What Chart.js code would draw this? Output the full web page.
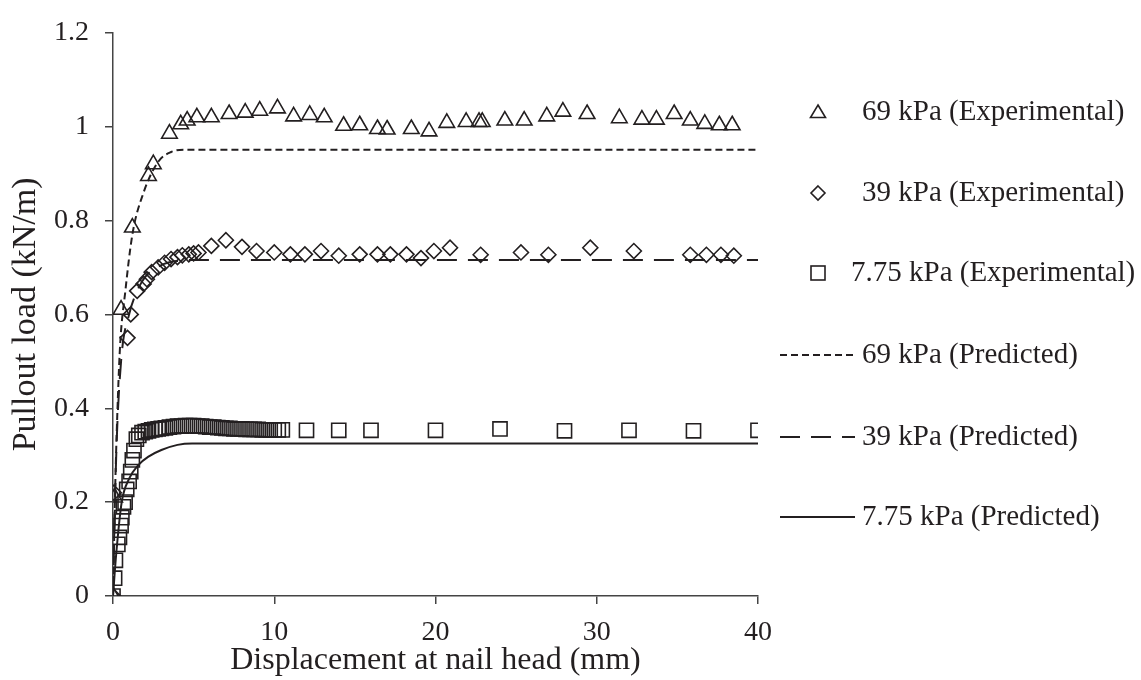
<!DOCTYPE html>
<html>
<head>
<meta charset="utf-8">
<script src="https://cdn.jsdelivr.net/npm/chart.js@4.4.1/dist/chart.umd.min.js"></script>
<style>
  html, body { margin: 0; padding: 0; background: #fff; }
  #wrap { width: 1141px; height: 680px; position: relative; }
</style>
</head>
<body>
<div id="wrap"><canvas id="pullout"></canvas></div>
<script>
// axis ticks
const xTicks = [0, 10, 20, 30, 40];
const yTicks = [0, 0.2, 0.4, 0.6, 0.8, 1, 1.2];

// 69 kPa experimental (triangles)
const exp69X = [
  0, 0.1, 0.5, 1.2, 2.2, 2.5, 3.5, 4.2, 4.6, 5.2,
  6.1, 7.2, 8.2, 9.1, 10.2, 11.2, 12.2, 13.1, 14.3, 15.3,
  16.4, 17.0, 18.5, 19.6, 20.7, 21.9, 22.7, 22.9, 24.3, 25.5,
  26.9, 27.9, 29.4, 31.4, 32.8, 33.7, 34.8, 35.8, 36.7, 37.6,
  38.4
];
const exp69Y = [
  0, 0.21, 0.61, 0.785, 0.895, 0.92, 0.985, 1.005, 1.013, 1.02,
  1.02, 1.027, 1.03, 1.034, 1.039, 1.022, 1.025, 1.02, 1.002, 1.003,
  0.995, 0.994, 0.995, 0.99, 1.008, 1.01, 1.01, 1.01, 1.013, 1.013,
  1.022, 1.032, 1.027, 1.018, 1.015, 1.015, 1.027, 1.013, 1.006, 1.003,
  1.003
];

// 39 kPa experimental (diamonds)
const exp39X = [
  0, 0.05, 0.9, 1.1, 1.5, 1.9, 2.1, 2.4, 2.8, 3.2,
  3.6, 4.0, 4.3, 4.7, 5.0, 5.3, 6.1, 7.0, 8.0, 8.9,
  10.0, 11.0, 11.9, 12.9, 14.0, 15.3, 16.4, 17.2, 18.2, 19.1,
  19.9, 20.9, 22.8, 25.3, 27.0, 29.6, 32.3, 35.8, 36.8, 37.7,
  38.5
];
const exp39Y = [
  0, 0.22, 0.55, 0.6, 0.65, 0.665, 0.675, 0.69, 0.70, 0.71,
  0.718, 0.722, 0.726, 0.728, 0.73, 0.732, 0.746, 0.758, 0.744, 0.735,
  0.732, 0.728, 0.728, 0.735, 0.725, 0.728, 0.728, 0.728, 0.728, 0.72,
  0.735, 0.742, 0.727, 0.732, 0.727, 0.742, 0.735, 0.727, 0.727, 0.727,
  0.725
];

// 7.75 kPa experimental (squares)
const exp775X = [
  0, 0.1, 0.15, 0.3, 0.4, 0.5, 0.55, 0.65, 0.75, 0.85,
  1.0, 1.1, 1.2, 1.3, 1.45, 1.6, 1.8, 2.0, 2.2, 2.4,
  2.6, 2.8, 3.0, 3.25, 3.5, 3.75, 4.0, 4.25, 4.5, 4.75,
  5.0, 5.25, 5.5, 5.75, 6.0, 6.25, 6.5, 6.75, 7.0, 7.25,
  7.5, 7.75, 8.0, 8.25, 8.5, 8.75, 9.0, 9.25, 9.5, 9.75,
  10.0, 10.25, 10.5, 12, 14, 16, 20, 24, 28, 32,
  36, 40
];
const exp775Y = [
  0, 0.038, 0.076, 0.11, 0.125, 0.15, 0.167, 0.19, 0.2, 0.227,
  0.244, 0.265, 0.29, 0.31, 0.334, 0.342, 0.348, 0.35, 0.352, 0.354,
  0.355, 0.356, 0.357, 0.358, 0.36, 0.361, 0.362, 0.362, 0.363, 0.363,
  0.363, 0.362, 0.362, 0.361, 0.36, 0.36, 0.359, 0.358, 0.357, 0.357,
  0.356, 0.356, 0.356, 0.355, 0.355, 0.355, 0.355, 0.354, 0.354, 0.354,
  0.354, 0.354, 0.354, 0.353, 0.353, 0.353, 0.353, 0.356, 0.352, 0.353,
  0.352, 0.353
];

// predicted curves
const pred69X = [0, 0.15, 0.3, 0.45, 0.75, 1.2, 1.9, 2.8, 3.6, 4.5, 40];
const pred69Y = [0, 0.25, 0.42, 0.54, 0.645, 0.77, 0.86, 0.925, 0.946, 0.951, 0.951];
const pred39X = [0, 0.2, 0.5, 1, 1.5, 2, 3, 4, 5, 40];
const pred39Y = [0, 0.3, 0.5, 0.6, 0.65, 0.68, 0.705, 0.714, 0.716, 0.716];
const pred775X = [0, 0.2, 0.54, 1, 1.57, 2.2, 3.0, 4.0, 4.9, 40];
const pred775Y = [0, 0.09, 0.2, 0.25, 0.279, 0.297, 0.311, 0.322, 0.325, 0.325];

const labels = [
  "69 kPa (Experimental)",
  "39 kPa (Experimental)",
  "7.75 kPa (Experimental)",
  "69 kPa (Predicted)",
  "39 kPa (Predicted)",
  "7.75 kPa (Predicted)"
];

const INK = "#231f20";
const SERIF = "'Liberation Serif', 'Times New Roman', serif";

function pts(xs, ys) {
  return xs.map((x, i) => ({ x: x, y: ys[i] }));
}

// legend on the right, drawn by hand so the spacing matches the figure
const sideLegend = {
  id: "sideLegend",
  afterDraw(chart) {
    const ctx = chart.ctx;
    const rows = [112, 193, 273, 355, 437, 517];
    const textX = [862, 862, 851, 862, 862, 862];
    ctx.save();
    ctx.strokeStyle = INK;
    ctx.lineWidth = 1.6;

    // triangle
    let cx = 818, cy = rows[0];
    ctx.beginPath();
    ctx.moveTo(cx, cy - 7);
    ctx.lineTo(cx + 7.5, cy + 5.5);
    ctx.lineTo(cx - 7.5, cy + 5.5);
    ctx.closePath();
    ctx.stroke();

    // diamond
    cy = rows[1];
    ctx.beginPath();
    ctx.moveTo(cx, cy - 7);
    ctx.lineTo(cx + 7, cy);
    ctx.lineTo(cx, cy + 7);
    ctx.lineTo(cx - 7, cy);
    ctx.closePath();
    ctx.stroke();

    // square
    cy = rows[2];
    ctx.strokeRect(cx - 7, cy - 7, 14, 14);

    // lines
    const dashes = [[7, 4], [20, 11], []];
    for (let i = 0; i < 3; i++) {
      ctx.setLineDash(dashes[i]);
      ctx.lineWidth = 2;
      ctx.beginPath();
      ctx.moveTo(780, rows[3 + i]);
      ctx.lineTo(855, rows[3 + i]);
      ctx.stroke();
    }
    ctx.setLineDash([]);

    ctx.fillStyle = INK;
    ctx.font = "29px " + SERIF;
    ctx.textBaseline = "middle";
    ctx.textAlign = "left";
    labels.forEach((t, i) => ctx.fillText(t, textX[i], rows[i]));
    ctx.restore();
  }
};

const ctx = document.getElementById("pullout").getContext("2d");

new Chart(ctx, {
  type: "scatter",
  data: {
    datasets: [
      {
        label: labels[0],
        data: pts(exp69X, exp69Y),
        pointStyle: "triangle",
        pointRadius: 9,
        borderColor: INK,
        backgroundColor: "rgba(0,0,0,0)",
        pointBorderWidth: 1.6
      },
      {
        label: labels[1],
        data: pts(exp39X, exp39Y),
        pointStyle: "rectRot",
        pointRadius: 7.5,
        borderColor: INK,
        backgroundColor: "rgba(0,0,0,0)",
        pointBorderWidth: 1.6
      },
      {
        label: labels[2],
        data: pts(exp775X, exp775Y),
        pointStyle: "rect",
        pointRadius: 10,
        borderColor: INK,
        backgroundColor: "rgba(0,0,0,0)",
        pointBorderWidth: 1.6
      },
      {
        label: labels[3],
        data: pts(pred69X, pred69Y),
        showLine: true,
        pointRadius: 0,
        borderColor: INK,
        borderWidth: 2,
        borderDash: [7, 4],
        cubicInterpolationMode: "monotone"
      },
      {
        label: labels[4],
        data: pts(pred39X, pred39Y),
        showLine: true,
        pointRadius: 0,
        borderColor: INK,
        borderWidth: 2,
        borderDash: [20, 11],
        cubicInterpolationMode: "monotone"
      },
      {
        label: labels[5],
        data: pts(pred775X, pred775Y),
        showLine: true,
        pointRadius: 0,
        borderColor: INK,
        borderWidth: 2,
        cubicInterpolationMode: "monotone"
      }
    ]
  },
  options: {
    responsive: true,
    maintainAspectRatio: false,
    animation: false,
    layout: {
      padding: { left: 0, right: 383, top: 27, bottom: 0 }
    },
    plugins: {
      legend: { display: false },
      tooltip: { enabled: false }
    },
    scales: {
      x: {
        type: "linear",
        min: xTicks[0],
        max: xTicks[xTicks.length - 1],
        afterBuildTicks: (scale) => {
          scale.ticks = xTicks.map((v) => ({ value: v }));
        },
        afterFit: (scale) => {
          scale.height = 84;
        },
        border: { color: "#444", width: 1.5 },
        grid: {
          drawOnChartArea: false,
          drawTicks: true,
          tickLength: 8,
          color: "#444",
          lineWidth: 1.5
        },
        ticks: {
          color: INK,
          padding: 12,
          font: { family: SERIF, size: 28 }
        },
        title: {
          display: true,
          text: "Displacement at nail head (mm)",
          color: INK,
          padding: { top: 0, bottom: 0 },
          font: { family: SERIF, size: 32 }
        }
      },
      y: {
        type: "linear",
        min: yTicks[0],
        max: yTicks[yTicks.length - 1],
        afterBuildTicks: (scale) => {
          scale.ticks = yTicks.map((v) => ({ value: v }));
        },
        afterFit: (scale) => {
          scale.width = 113;
        },
        border: { color: "#444", width: 1.5 },
        grid: {
          drawOnChartArea: false,
          drawTicks: true,
          tickLength: 8,
          color: "#444",
          lineWidth: 1.5
        },
        ticks: {
          color: INK,
          padding: 16,
          font: { family: SERIF, size: 28 },
          callback: (v) => String(Math.round(v * 10) / 10)
        },
        title: {
          display: true,
          text: "Pullout load (kN/m)",
          color: INK,
          padding: { top: 6, bottom: 0 },
          font: { family: SERIF, size: 34 }
        }
      }
    }
  },
  plugins: [sideLegend]
});
</script>
</body>
</html>
